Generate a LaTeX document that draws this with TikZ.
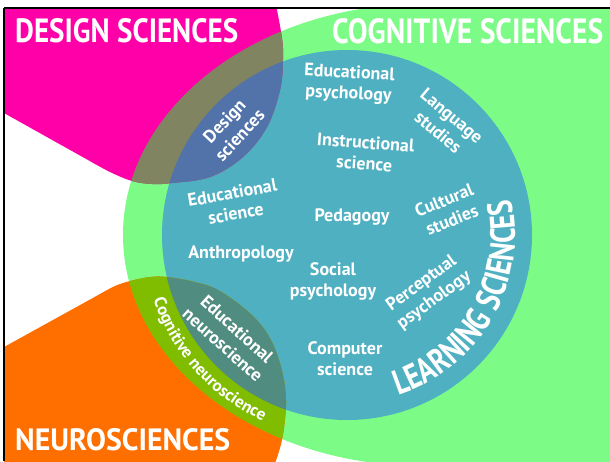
\documentclass[tikz,border=0pt]{standalone}
\usepackage{fontspec}
\usepackage{graphicx}
\setmainfont{PT Sans}
\newfontfamily\cond[FakeStretch=0.8]{PT Sans}
\usetikzlibrary{decorations.text}
\definecolor{pinkc}{HTML}{FF00A8}
\definecolor{greenc}{HTML}{7CFC86}
\definecolor{tealc}{HTML}{4FB0C1}
\definecolor{orangec}{HTML}{FF6F00}
\definecolor{olivec}{HTML}{808460}
\definecolor{bluec}{HTML}{5272AA}
\definecolor{ygreenc}{HTML}{80BC00}
\definecolor{dtealc}{HTML}{508C80}
\begin{document}
\begin{tikzpicture}[x=1pt,y=1pt,
  lbl/.style={text=white, font=\bfseries\fontsize{18}{21}\selectfont, align=center, inner sep=0pt},
  title/.style={text=white, inner sep=0pt, font=\bfseries\fontsize{35}{35}\selectfont}]
\useasboundingbox (0,0) rectangle (610,-461);
\fill[white] (0,0) rectangle (610,-461);
\def\greenpath{(423,-4) arc[start angle=90,end angle=270,x radius=300,y radius=231] -- (620,-466) -- (620,-4) -- cycle}
\def\tealpath{(347,-235) circle[radius=185]}
\def\pinkpath{(-5,-5) -- (-5,-108) -- (88,-160) -- plot[smooth,tension=0.6] coordinates {(88,-160) (110,-172) (132,-181) (152,-184) (172,-183) (210,-177) (243,-157) (267,-127) (280,-90) (283,-60) (282,-38) (276,-5)} -- cycle}
\def\orangepath{(-5,-352) -- (100,-294) -- plot[smooth,tension=0.6] coordinates {(100,-294) (115,-286) (130,-281) (150,-277) (167,-277) (195,-282) (220,-291) (253,-316) (272,-342) (283,-375) (286,-405) (282,-440) (274,-466)} -- (-5,-466) -- cycle}
\begin{scope}
  \clip (4,-8) rectangle (610,-461);
  \fill[greenc] \greenpath;
  \fill[tealc] \tealpath;
  \fill[pinkc] \pinkpath;
  \fill[orangec] \orangepath;
  \begin{scope}
    \clip \pinkpath;
    \fill[olivec] \greenpath;
    \fill[bluec] \tealpath;
  \end{scope}
  \begin{scope}
    \clip \orangepath;
    \fill[ygreenc] \greenpath;
    \fill[dtealc] \tealpath;
  \end{scope}
\end{scope}
\draw[line width=1.8pt] (4,-8) -- (610,-8);
\draw[line width=1.5pt] (4,-8) -- (4,-461);
% titles
\node[title, anchor=base west] (ds) at (15,-42) {\resizebox{223pt}{24pt}{DESIGN SCIENCES}};
\node[title, anchor=base west] (cs) at (332,-43) {\resizebox{271pt}{25pt}{COGNITIVE SCIENCES}};
\node[title, anchor=base west] (ns) at (15,-450) {\resizebox{215pt}{22pt}{NEUROSCIENCES}};
% labels
\node[lbl, rotate=-3] (edpsy) at (349,-84) {Educational\\psychology};
\node[lbl, rotate=-40] (lang) at (445,-124) {Language\\studies};
\node[lbl, rotate=-4] (instr) at (365,-153) {Instructional\\science};
\node[lbl] (ped) at (352,-217) {Pedagogy};
\node[lbl, rotate=22] (cult) at (448,-210) {Cultural\\studies};
\node[lbl, rotate=10] (edsci) at (234,-203) {Educational\\science};
\node[lbl] (anth) at (241,-254) {Anthropology};
\node[lbl] (soc) at (333,-281) {Social\\psychology};
\node[lbl, rotate=36] (perc) at (428,-292) {Perceptual\\psychology};
\node[lbl] (comp) at (345,-359) {Computer\\science};
\node[lbl, rotate=47] (dsci) at (232,-128) {Design\\sciences};
\node[lbl, rotate=-42] (edneu) at (230,-337) {Educational\\neuroscience};
% curved texts
\path[decorate, decoration={text along path, text align=center,
  text={|\color{white}\cond\bfseries\fontsize{35}{35}\selectfont|LEARNING SCIENCES}}]
  (347,-235) ++(-80:168) arc[start angle=-80, end angle=20, radius=168];
\path[decorate, decoration={text along path, text align=center,
  text={|\color{white}\bfseries\fontsize{17}{17}\selectfont|Cognitive neuroscience}}]
  (347,-235) ++(189:204) arc[start angle=189, end angle=255, radius=204];
\end{tikzpicture}
\end{document}
